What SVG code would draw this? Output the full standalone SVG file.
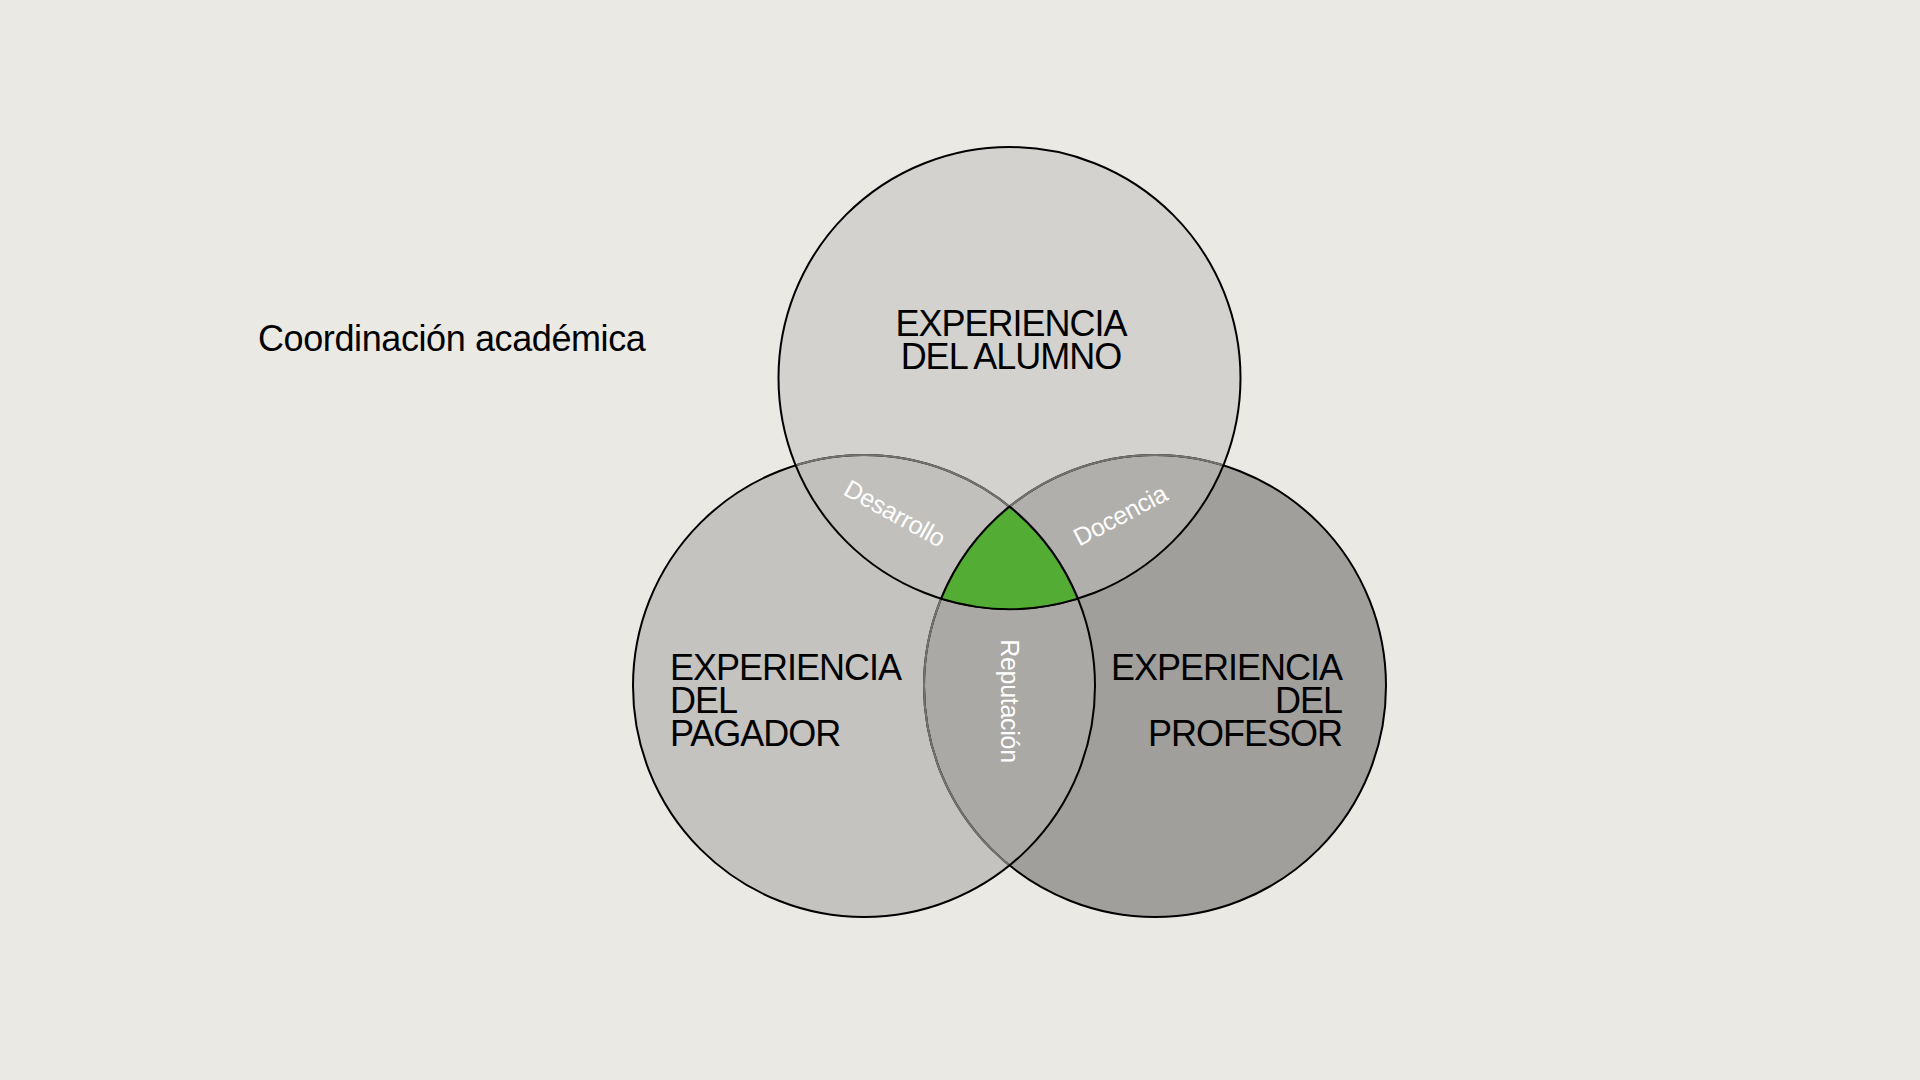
<svg xmlns="http://www.w3.org/2000/svg" width="1920" height="1080" viewBox="0 0 1920 1080">
  <style>
    .big { font-family: "Liberation Sans", Arial, sans-serif; font-size: 36px; letter-spacing: -1px; fill: #000; }
    .title { font-family: "Liberation Sans", Arial, sans-serif; font-size: 36px; letter-spacing: -0.4px; fill: #000; }
    .lbl { font-family: "Liberation Sans", Arial, sans-serif; font-size: 25px; letter-spacing: -0.3px; fill: #fff; }
    .edge { fill: none; stroke: #000; stroke-width: 2; }
    .soft { fill: none; stroke: #74736f; stroke-width: 2; }
  </style>
  <defs>
    <clipPath id="clipT"><circle cx="1009.5" cy="378" r="231"/></clipPath>
    <clipPath id="clipL"><circle cx="864" cy="686" r="231"/></clipPath>
    <clipPath id="clipR"><circle cx="1155" cy="686" r="231"/></clipPath>
  </defs>
  <rect x="0" y="0" width="1920" height="1080" fill="#eae9e4"/>

  <g id="title">
    <text class="title" x="258" y="351">Coordinación académica</text>
  </g>

  <g id="circle-profesor">
    <circle cx="1155" cy="686" r="231" fill="#a09f9b"/>
  </g>
  <g id="circle-pagador">
    <circle cx="864" cy="686" r="231" fill="#c4c3bf"/>
  </g>
  <g id="circle-alumno">
    <circle cx="1009.5" cy="378" r="231" fill="#d3d2ce"/>
  </g>

  <g id="lens-reputacion">
    <circle cx="864" cy="686" r="231" fill="#aaa9a5" clip-path="url(#clipR)"/>
  </g>
  <g id="lens-desarrollo">
    <circle cx="1009.5" cy="378" r="231" fill="#c1c0bc" clip-path="url(#clipL)"/>
  </g>
  <g id="lens-docencia">
    <circle cx="1009.5" cy="378" r="231" fill="#b0afab" clip-path="url(#clipR)"/>
  </g>

  <g id="outlines">
    <circle class="edge" cx="1155" cy="686" r="231"/>
    <circle class="soft" cx="1155" cy="686" r="231" clip-path="url(#clipL)"/>
    <circle class="soft" cx="1155" cy="686" r="231" clip-path="url(#clipT)"/>
    <circle class="edge" cx="864" cy="686" r="231"/>
    <circle class="soft" cx="864" cy="686" r="231" clip-path="url(#clipT)"/>
    <circle class="edge" cx="1009.5" cy="378" r="231"/>
  </g>

  <g id="center">
    <path d="M 1009.5 506.6 A 231 231 0 0 1 1077.85 598.66 A 231 231 0 0 1 941.15 598.66 A 231 231 0 0 1 1009.5 506.6 Z" fill="#53ad35" stroke="#000" stroke-width="2" stroke-linejoin="round"/>
  </g>

  <g id="label-alumno">
    <text class="big" x="1011" y="336" text-anchor="middle">EXPERIENCIA</text>
    <text class="big" x="1011" y="369" text-anchor="middle">DEL ALUMNO</text>
  </g>
  <g id="label-pagador">
    <text class="big" x="670" y="679.5">EXPERIENCIA</text>
    <text class="big" x="670" y="713">DEL</text>
    <text class="big" x="670" y="746">PAGADOR</text>
  </g>
  <g id="label-profesor">
    <text class="big" x="1342" y="679.5" text-anchor="end">EXPERIENCIA</text>
    <text class="big" x="1342" y="713" text-anchor="end">DEL</text>
    <text class="big" x="1342" y="746" text-anchor="end">PROFESOR</text>
  </g>

  <g id="label-desarrollo">
    <text class="lbl" transform="translate(895 513) rotate(29)" x="0" y="9" text-anchor="middle">Desarrollo</text>
  </g>
  <g id="label-docencia">
    <text class="lbl" transform="translate(1120 515) rotate(-28)" x="0" y="9" text-anchor="middle">Docencia</text>
  </g>
  <g id="label-reputacion">
    <text class="lbl" transform="translate(1001 701) rotate(90)" x="0" y="0" text-anchor="middle">Reputación</text>
  </g>
</svg>
